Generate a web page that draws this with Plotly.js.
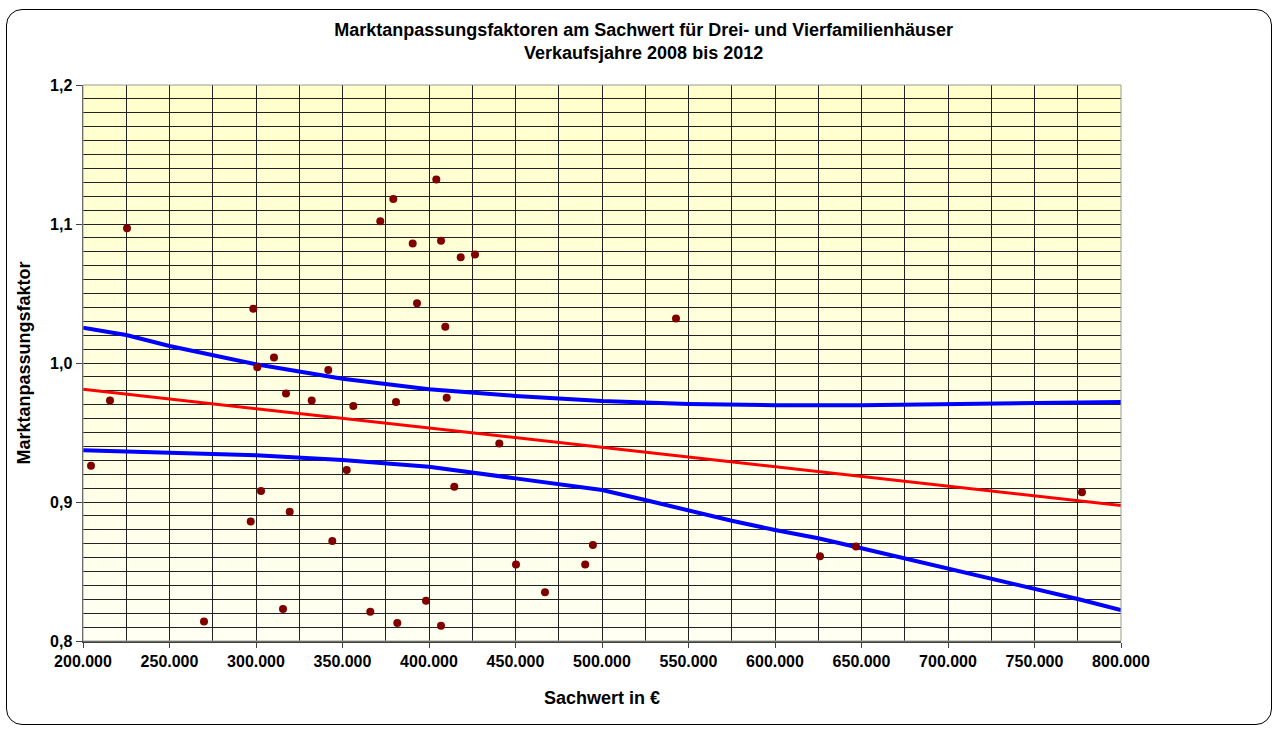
<!DOCTYPE html>
<html>
<head>
<meta charset="utf-8">
<script src="https://cdn.plot.ly/plotly-3.0.1.min.js"></script>
<style>
  html, body { margin: 0; padding: 0; background: #fff; }
  #wrap { position: relative; width: 1277px; height: 729px; }
  #chart { position: absolute; left: 0; top: 0; width: 1277px; height: 729px; }
  #frame { position: absolute; left: 6px; top: 9px; width: 1264px; height: 714px;
           border: 1.5px solid #000; border-radius: 16px; pointer-events: none; }
</style>
</head>
<body>
<div id="wrap"><div id="chart"></div><div id="frame"></div></div>
<script>
// Observed sales: Sachwert (EUR) and Marktanpassungsfaktor
const sachwert = [204624, 225433, 215607, 269942, 296936, 298439, 300751, 302890, 310404, 315607,
  317341, 319480, 332197, 341792, 344104, 352428, 356243, 366069, 371850, 379364,
  380925, 381676, 390578, 393064, 398266, 404220, 406936, 406936, 409422, 410231,
  414624, 418324, 426590, 440636, 450283, 467046, 490283, 494734, 542775, 626012,
  646821, 777457];
const faktor = [0.926, 1.097, 0.973, 0.814, 0.886, 1.039, 0.997, 0.908, 1.004, 0.823,
  0.978, 0.893, 0.973, 0.995, 0.872, 0.923, 0.969, 0.821, 1.102, 1.118,
  0.972, 0.813, 1.086, 1.043, 0.829, 1.132, 1.088, 0.811, 1.026, 0.975,
  0.911, 1.076, 1.078, 0.942, 0.855, 0.835, 0.855, 0.869, 1.032, 0.861,
  0.868, 0.907];

// Regression line
const trendX = [200000, 800000];
const trendY = [0.9811, 0.8975];

// Upper confidence band
const upperX = [200000, 225000, 250000, 275000, 300000, 350000, 400000, 450000, 500000, 550000, 600000, 650000, 700000, 750000, 800000];
const upperY = [1.0254, 1.0201, 1.0122, 1.0058, 0.9991, 0.9887, 0.9811, 0.9763, 0.9727, 0.9705, 0.9696, 0.9696, 0.9705, 0.9709, 0.9719];

// Lower confidence band
const lowerX = [200000, 250000, 300000, 350000, 400000, 450000, 500000, 525000, 550000, 575000, 600000, 625000, 650000, 675000, 700000, 725000, 750000, 775000, 800000];
const lowerY = [0.9372, 0.9353, 0.9336, 0.9302, 0.9254, 0.9170, 0.9086, 0.9014, 0.8937, 0.8865, 0.8799, 0.8739, 0.8667, 0.8595, 0.8516, 0.8451, 0.8379, 0.8302, 0.8223];

const titleLines = ['Marktanpassungsfaktoren am Sachwert für Drei- und Vierfamilienhäuser', 'Verkaufsjahre 2008 bis 2012'];
const xTitle = 'Sachwert in €';
const yTitle = 'Marktanpassungsfaktor';

const font = '"Liberation Sans", Arial, sans-serif';
const gridCol = '#222222';

const traces = [
  { x: upperX, y: upperY, type: 'scatter', mode: 'lines', line: { color: '#0000FF', width: 4 }, hoverinfo: 'skip' },
  { x: lowerX, y: lowerY, type: 'scatter', mode: 'lines', line: { color: '#0000FF', width: 4 }, hoverinfo: 'skip' },
  { x: trendX, y: trendY, type: 'scatter', mode: 'lines', line: { color: '#FF0000', width: 3 }, hoverinfo: 'skip' },
  { x: sachwert, y: faktor, type: 'scatter', mode: 'markers', marker: { color: '#800000', size: 8 } }
];

// background gradient strips (pale yellow to near white)
const shapes = [];
const n = 30;
for (let i = 0; i < n; i++) {
  const t = i / (n - 1);
  const b = Math.round(204 + (242 - 204) * t);
  shapes.push({ type: 'rect', xref: 'x domain', yref: 'y domain', x0: 0, x1: 1,
    y0: 1 - (i + 1) / n, y1: 1 - i / n, line: { width: 0 }, fillcolor: `rgb(255,255,${b})`, layer: 'below' });
}
shapes.push({ type: 'rect', xref: 'x domain', yref: 'y domain', x0: 0, x1: 1, y0: 0, y1: 1,
  line: { color: '#999', width: 1 }, layer: 'above' });

const layout = {
  width: 1277, height: 729,
  margin: { l: 83, r: 156, t: 85, b: 88 },
  paper_bgcolor: '#ffffff',
  plot_bgcolor: '#FFFFCC',
  separators: ',.',
  showlegend: false,
  font: { family: font, color: '#000' },
  title: {
    text: '<b>' + titleLines.join('<br>') + '</b>',
    font: { family: font, size: 18, color: '#000' },
    xref: 'container', x: 0.504, xanchor: 'center',
    yref: 'container', y: 1 - 36 / 729, yanchor: 'top'
  },
  xaxis: {
    range: [200000, 800000], dtick: 50000, tick0: 200000,
    tickformat: ',.0f',
    ticks: 'outside', ticklen: 5, tickcolor: '#404040',
    showgrid: true, gridcolor: gridCol, gridwidth: 1,
    minor: { dtick: 25000, showgrid: true, gridcolor: gridCol, gridwidth: 1 },
    showline: true, linecolor: '#404040', linewidth: 1.5,
    zeroline: false,
    tickfont: { family: font, size: 16, color: '#000', weight: 'bold' },
    title: { text: '<b>' + xTitle + '</b>', font: { family: font, size: 18, color: '#000' }, standoff: 22 }
  },
  yaxis: {
    range: [0.8, 1.2], dtick: 0.1, tick0: 0.8,
    tickformat: '.1f',
    ticks: 'outside', ticklen: 6, tickcolor: '#404040',
    showgrid: true, gridcolor: gridCol, gridwidth: 1,
    minor: { dtick: 0.01, showgrid: true, gridcolor: gridCol, gridwidth: 1 },
    showline: true, linecolor: '#404040', linewidth: 1.5,
    zeroline: false,
    tickfont: { family: font, size: 16, color: '#000', weight: 'bold' },
    title: { text: '<b>' + yTitle + '</b>', font: { family: font, size: 18, color: '#000' }, standoff: 14 }
  },
  shapes: shapes
};

Plotly.newPlot('chart', traces, layout, { displayModeBar: false, staticPlot: true });
</script>
</body>
</html>
